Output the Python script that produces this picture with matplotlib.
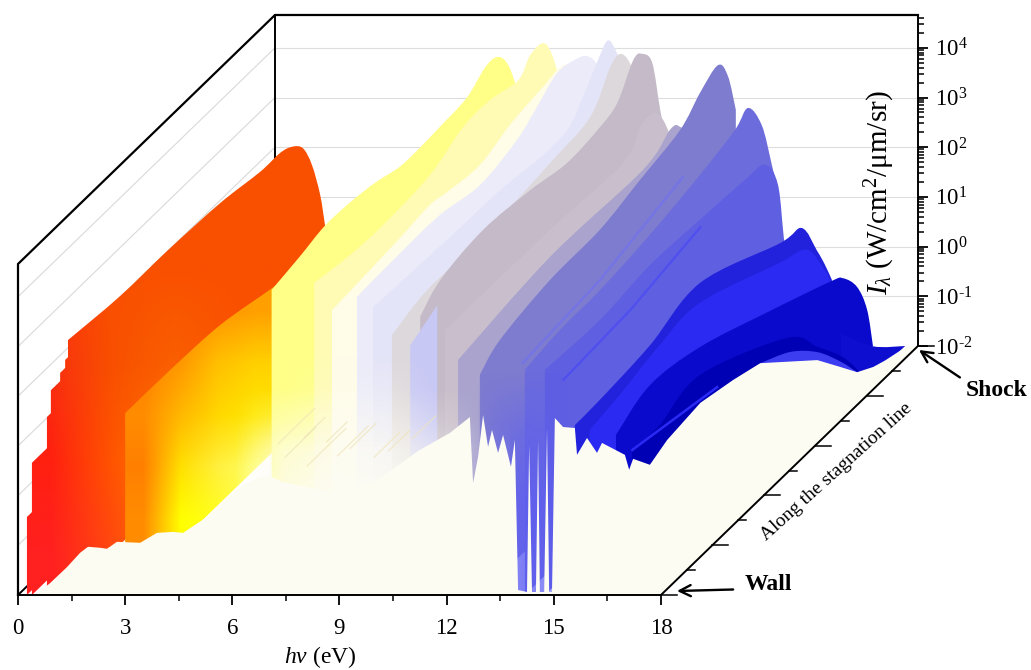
import numpy as np
import matplotlib
matplotlib.use("Agg")
import matplotlib.pyplot as plt
from matplotlib.colors import to_rgb
from matplotlib.patches import PathPatch
from matplotlib.path import Path

plt.rcParams['font.family'] = ['Liberation Serif', 'DejaVu Sans']
plt.rcParams['mathtext.fontset'] = 'custom'
plt.rcParams['mathtext.rm'] = 'Liberation Serif'
plt.rcParams['mathtext.it'] = 'Liberation Serif:italic'
plt.rcParams['mathtext.bf'] = 'Liberation Serif:bold'

# low photon energy slices: only the first step of each one shows
hv_low = [0.25, 0.39, 0.81, 0.92, 1.18, 1.32]
i_low = [-0.43, 0.66, 1.58, 2.12, 2.47, 2.73]

# profiles along the stagnation line, depth 0 = wall, 1 = shock, values are log10(I)
hv_body = 1.40
d_body = [0, .202, .389, .591, .747, .825, .872, .914, .949, .981, 1.0]
i_body = [3.13, 3.00, 2.99, 2.92, 2.77, 2.76, 2.65, 2.41, 1.90, 1.14, 0.43]

hv_gold = 3.00
d_gold = [0, .175, .37, .572, .65]
i_gold = [1.66, 1.65, 1.58, 1.31, 1.25]

hv_yellow = 7.10
d_yellow = [0, .109, .206, .304, .401, .498, .576, .654, .759, .829, .875, .914, .946, .973, 1.0]
i_yellow = [4.14, 4.26, 4.39, 4.37, 4.28, 4.12, 4.11, 4.14, 4.20, 4.45, 4.44, 4.14, 3.58, 2.79, 1.52]

hv_pale = 8.29
d_pale = [0, .14, .268, .451, .58, .685, .794, .84, .891, .926, .965, .996]
i_pale = [4.28, 4.14, 4.10, 4.19, 4.51, 4.53, 4.38, 4.65, 4.64, 4.23, 3.33, 2.47]

hv_cream = 8.79
d_cream = [0, .128, .265, .381, .459, .576, .693, .809, .895, .946, .984]
i_cream = [3.73, 3.79, 3.86, 3.94, 3.85, 3.77, 3.99, 4.10, 4.16, 3.82, 3.03]

hv_lav1 = 9.49
d_lav1 = [0, .167, .323, .479, .623, .70, .778, .848, .895, .934, .965, .992]
i_lav1 = [4.00, 4.04, 4.03, 3.85, 4.04, 4.31, 4.60, 4.52, 4.36, 3.98, 3.23, 2.49]

hv_lav2 = 9.94
d_lav2 = [0, .30, .494, .638, .755, .817, .875, .914, .949, .977, 1.0]
i_lav2 = [3.79, 3.70, 3.67, 3.55, 3.57, 3.93, 4.38, 4.58, 4.15, 3.57, 2.71]

hv_beige = 10.47
d_beige = [0, .136, .342, .615, .77, .848, .887, .926, .965, .996]
i_beige = [3.23, 3.45, 3.43, 3.61, 3.75, 4.36, 4.44, 4.06, 3.23, 2.37]

hv_block = 10.98
d_block = [0, .105]
i_block = [3.02, 3.30]

hv_mauve1 = 11.26
d_mauve1 = [0, .08, .245, .428, .572, .70, .767, .829, .864, .903, .934, .965, .996]
i_mauve1 = [3.60, 3.95, 4.12, 4.00, 3.83, 3.91, 4.06, 4.61, 4.56, 4.18, 3.08, 2.12, 1.36]

hv_mauve2 = 11.95
d_mauve2 = [0, .409, .693, .759, .809, .844, .875, .914, .953, .992]
i_mauve2 = [3.33, 3.30, 3.22, 3.61, 3.64, 3.37, 2.87, 1.97, 1.17, 0.47]

hv_slate = 12.32
d_slate = [0, .358, .72, .825, .864, .903, .942, .988]
i_slate = [2.73, 3.01, 2.95, 3.23, 3.09, 2.63, 1.73, 0.70]

hv_peri1 = 12.93
d_peri1 = [0, .078, .272, .467, .623, .778, .856, .926, .965, .996]
i_peri1 = [2.43, 2.74, 2.97, 3.01, 3.23, 3.45, 3.81, 4.02, 3.61, 2.77]

hv_peri2 = 14.19
d_peri2 = [0, .136, .292, .486, .681, .817, .868, .922, .961, .992]
i_peri2 = [2.53, 2.65, 2.67, 2.81, 3.04, 3.26, 3.45, 2.83, 1.84, 0.98]

hv_peri3 = 14.75
d_peri3 = [0, .214, .409, .603, .778, .856, .907, .934, .973, 1.0]
i_peri3 = [2.53, 2.46, 2.59, 2.53, 2.45, 2.37, 1.71, 0.36, -0.53, -1.28]

hv_blue1 = 15.59
d_blue1 = [0, .097, .292, .486, .798, .883, .942, .973, 1.0]
i_blue1 = [1.42, 1.44, 1.56, 1.84, 1.08, 0.96, 0.21, -0.23, -0.67]

hv_blue2 = 16.00
d_blue2 = [0, .117, .272, .428, .739, .844, .907, .942, 1.0]
i_blue2 = [1.32, 1.44, 1.66, 1.73, 0.98, 0.72, 0.05, -0.48, -1.88]

hv_blue3 = 16.74
d_blue3 = [0, .132, .327, .588, .833, .883, .938, .977, 1.0]
i_blue3 = [1.22, 1.56, 1.35, 0.74, 0.13, -0.05, -0.50, -1.15, -2.0]

hv_back = 17.64
d_back = [.75, .875, 1.0]
i_back = [-0.50, -1.38, -2.0]

hv_blue4 = 17.19
d_blue4 = [0, .109, .265, .603, .72, .821, .887]
i_blue4 = [0.88, 0.88, 1.10, 0.15, -0.61, -1.33, -1.96]

hv_bump = 17.70
d_bump = [.428, .545, .65, .74, .805]
i_bump = [0.52, 0.16, -0.37, -1.01, -1.55]

# thin bright ridges that show on the surface
ridge1_hv = 14.13
ridge1_d = [0, .30, .623]
ridge1_i = [2.67, 2.83, 3.29]
ridge2_hv = 15.27
ridge2_d = [0, .26, .533]
ridge2_i = [2.33, 2.43, 2.73]
ridge3_hv = 17.20
ridge3_d = [0, .33]
ridge3_i = [0.92, 0.53]

# noisy pale lines in the faded part: hv, depth at start, depth at end, log10(I)
streak_hv = [7.15, 7.40, 7.80, 8.10, 8.35, 8.80, 9.30, 9.75, 10.30, 10.90]
streak_d0 = [.02, .01, .03, .00, .04, .02, .00, .03, .01, .02]
streak_d1 = [.16, .13, .11, .15, .12, .14, .10, .13, .09, .11]
streak_i = [0.95, 0.72, 1.02, 0.60, 0.88, 0.70, 0.95, 0.62, 0.85, 1.05]

# spectrum at the wall, lower edge of the coloured surface
wall_hv = [.48, .90, 1.37, 1.74, 1.96, 2.30, 2.49, 2.77, 3.42, 3.89, 4.34, 4.62, 5.29, 5.85, 6.30,
           6.69, 7.05, 7.42, 8.26, 9.10, 10.13, 11.25, 12.09, 12.65, 12.74, 12.88, 13.02, 13.16,
           13.27, 13.44, 13.58, 13.80, 13.91, 14.0, 14.25, 14.31, 14.39, 14.50, 14.56, 14.61,
           14.73, 14.81, 14.87, 14.95, 15.03, 15.26, 15.59, 15.65, 15.93, 16.21, 16.35, 16.99,
           17.11, 17.22, 17.69]
wall_i = [-2, -1.76, -1.44, -1.15, -1.03, -1.05, -1.07, -.93, -.95, -.75, -.73, -.75, -.43, -.05, .21,
          .35, .39, .27, .15, .05, .35, .92, 1.26, 1.58, .25, .78, 1.62, .98,
          1.32, .86, 1.22, .58, 1.12, -1.90, -1.94, 1.02, -1.94, -1.94, 1.12, -1.94,
          -1.94, 1.36, -1.94, -1.94, 1.56, 1.38, 1.36, .82, 1.16, .86, 1.06, .82,
          .52, .74, .62]

# highest photon energy edge, along the stagnation line
edge_hv = 17.70
edge_d = [.066, .195, .323, .428, .65, .74, .805, .868, .914, 1.0]
edge_i = [.79, .89, .71, .52, -.53, -1.12, -1.55, -1.76, -1.86, -2.0]

decades = [-2, -1, 0, 1, 2, 3, 4]
top_decade = 4.66
x_ticks = [0, 3, 6, 9, 12, 15, 18]
x_minor = [1.5, 4.5, 7.5, 10.5, 13.5, 16.5]
depth_major = [0, .2, .4, .6, .8, 1.0]
depth_minor = [.1, .3, .5, .7, .9]

PX_EV = 35.72
PX_DEC = 49.7
DEPTH_X = 257 / PX_EV
DEPTH_Y = 249 / PX_DEC
CREAM = '#FDFCF3'


def proj(hv, d, log_i):
    return np.asarray(hv) + DEPTH_X * np.asarray(d), np.asarray(log_i) + DEPTH_Y * np.asarray(d)


def px(sx, sy):
    return (sx - 18) / PX_EV, (595 - sy) / PX_DEC - 2


def outline(hv, d, log_i):
    # rounded top line through the read values, straight sides down to the floor
    x, y = proj(hv, np.array(d), np.array(log_i))
    pts = np.column_stack([x, y])
    verts = [pts[0]]
    codes = [Path.MOVETO]
    for i in range(len(pts) - 1):
        before = pts[max(i - 1, 0)]
        after = pts[min(i + 2, len(pts) - 1)]
        verts += [pts[i] + (pts[i + 1] - before) / 6, pts[i + 1] - (after - pts[i]) / 6, pts[i + 1]]
        codes += [Path.CURVE4] * 3
    fx, fy = proj(hv, np.array([d[-1], d[0]]), np.array([-2, -2]))
    verts += [(fx[0], fy[0]), (fx[1], fy[1]), pts[0]]
    codes += [Path.LINETO, Path.LINETO, Path.CLOSEPOLY]
    return Path(np.array(verts), codes)


def grid_image(rows):
    return np.array([[to_rgb(c) for c in row] for row in rows])


def gradient_fill(ax, path, img, corners, z):
    # corners in picture pixels: left, right, bottom, top
    x0, y0 = px(corners[0], corners[2])
    x1, y1 = px(corners[1], corners[3])
    im = ax.imshow(img, extent=(x0, x1, y0, y1), aspect='auto', interpolation='bilinear',
                   origin='upper', zorder=z)
    im.set_clip_path(path, ax.transData)


def tint(ax, color, alpha_rows, corners, z):
    img = np.zeros((len(alpha_rows), len(alpha_rows[0]), 4))
    img[..., :3] = to_rgb(color)
    img[..., 3] = alpha_rows
    x0, y0 = px(corners[0], corners[2])
    x1, y1 = px(corners[1], corners[3])
    ax.imshow(img, extent=(x0, x1, y0, y1), aspect='auto', interpolation='bilinear',
              origin='upper', zorder=z)


fig = plt.figure(figsize=(10.31, 6.70), dpi=100)
ax = fig.add_axes([18 / 1031, 75 / 670, 900 / 1031, 580 / 670])

# walls
for k in decades[1:]:
    x, y = proj([0, 0], [0, 1], [k, k])
    ax.plot(x, y, color='#D9D9D9', lw=0.8, zorder=1)
    x, y = proj([0, 18], [1, 1], [k, k])
    ax.plot(x, y, color='#DDDDDD', lw=0.8, zorder=1)
x, y = proj([0, 0, 0, 18], [0, 0, 1, 1], [-2, top_decade, top_decade, top_decade])
ax.plot(x, y, color='black', lw=1.6, zorder=1.2, solid_joinstyle='miter', clip_on=False)
x, y = proj([0, 0, 0], [0, 1, 1], [-2, -2, top_decade])
ax.plot(x, y, color='black', lw=1.4, zorder=1.2, clip_on=False)

# warm part, colour changes inside the surface
body_colors = grid_image([
    ['#FF4A08', '#F95000', '#F95000', '#F95000', '#F95000'],
    ['#FF3A08', '#F95000', '#F95000', '#F95000', '#F95000'],
    ['#F93010', '#F85000', '#FA6000', '#F95200', '#F95200'],
    ['#FF2010', '#FF5500', '#FF8000', '#FF7000', '#FF7000'],
    ['#FF2020', '#FF4810', '#FF8000', '#FF6000', '#FF6000'],
])
gold_colors = grid_image([
    ['#FF8000', '#FF8800', '#FF9500', '#FFA000'],
    ['#FF8000', '#FF9800', '#FFC000', '#FFD000'],
    ['#FF8C00', '#FFB800', '#FFD800', '#FFE800'],
    ['#FF8000', '#FFE000', '#FFF040', '#FFFF60'],
    ['#FF8C00', '#FFFF00', '#FFFF20', '#FFFF60'],
])
for hv, v in zip(hv_low, i_low):
    gradient_fill(ax, outline(hv, [0, .2], [v, v]), body_colors, (20, 330, 600, 130), 1.3)
gradient_fill(ax, outline(hv_body, d_body, i_body), body_colors, (20, 330, 600, 130), 1.3)
gradient_fill(ax, outline(hv_gold, d_gold, i_gold), gold_colors, (125, 275, 545, 285), 1.4)

# cool part, one colour per slice, drawn from low to high photon energy
slices = [
    (hv_yellow, d_yellow, i_yellow, '#FFFF88'),
    (hv_pale, d_pale, i_pale, '#FFFBB4'),
    (hv_cream, d_cream, i_cream, '#FFFCE8'),
    (hv_lav1, d_lav1, i_lav1, '#EBEBFA'),
    (hv_lav2, d_lav2, i_lav2, '#E4E4F8'),
    (hv_beige, d_beige, i_beige, '#DDD8DC'),
    (hv_mauve1, d_mauve1, i_mauve1, '#C4BAC8'),
    (hv_block, d_block, i_block, '#C8C8F5'),
    (hv_mauve2, d_mauve2, i_mauve2, '#C9BFCC'),
    (hv_slate, d_slate, i_slate, '#A9A3CE'),
    (hv_peri1, d_peri1, i_peri1, '#7E7CCF'),
    (hv_peri2, d_peri2, i_peri2, '#6C6CDC'),
    (hv_peri3, d_peri3, i_peri3, '#5F5FE2'),
    (hv_blue1, d_blue1, i_blue1, '#2222DD'),
    (hv_blue2, d_blue2, i_blue2, '#2A2AF2'),
    (hv_blue3, d_blue3, i_blue3, '#0A0ACC'),
    (hv_back, d_back, i_back, '#0E0ED0'),
    (hv_blue4, d_blue4, i_blue4, '#0000B4'),
    (hv_bump, d_bump, i_bump, '#3C3CF0'),
]
z = 1.5
for hv, d, v, c in slices:
    ax.add_patch(PathPatch(outline(hv, d, v), facecolor=c, edgecolor='none', zorder=z))
    z += 0.01

for hv, d, v, c, w in [(ridge1_hv, ridge1_d, ridge1_i, '#7474E6', 1.6),
                       (ridge2_hv, ridge2_d, ridge2_i, '#4F4FF0', 1.6),
                       (ridge3_hv, ridge3_d, ridge3_i, '#2A2AF5', 1.8)]:
    x, y = proj(hv, np.array(d), np.array(v))
    ax.plot(x, y, color=c, lw=w, zorder=1.75)

# periwinkle wash over the low part of the blue slices
tint(ax, '#5C5CF2', [[0, 0, 0, 0, 0],
                     [0, .35, .5, .4, 0],
                     [.1, .6, .8, .7, .1],
                     [.1, .6, .8, .7, .1]],
     (465, 580, 600, 340), 1.8)

# the surface fades out toward the wall in the middle of the spectrum
tint(ax, CREAM, [[0, 0, 0, 0, 0, 0],
                 [0, 0, .12, .2, 0, 0],
                 [0, .3, .5, .5, .2, 0],
                 [0, .7, .85, .8, .5, .05],
                 [0, .8, .95, .9, .6, .05]],
     (210, 510, 500, 340), 1.85)

for hv, d0, d1, v in zip(streak_hv, streak_d0, streak_d1, streak_i):
    x, y = proj([hv, hv], [d0, d1], [v, v])
    ax.plot(x, y, color='#EFE4B8', lw=0.9, alpha=0.7, zorder=1.87)

# floor in front of the wall spectrum and the high energy edge
wx, wy = proj(wall_hv, np.zeros(len(wall_hv)), wall_i)
ex, ey = proj(edge_hv, np.array(edge_d), np.array(edge_i))
cx, cy = proj([18, 18, wall_hv[0]], [1, 0, 0], [-2, -2, -2])
ax.fill(np.r_[wx, ex, cx], np.r_[wy, ey, cy], color=CREAM, lw=0, zorder=1.95)

# depth axis
x, y = proj([18, 18], [0, 1], [-2, -2])
ax.plot(x, y, color='black', lw=1.4, zorder=2.2)
for d in depth_major:
    x, y = proj(18, d, -2)
    ax.plot([x, x + 16 / PX_EV], [y, y], color='black', lw=1.1, zorder=2.2, clip_on=False)
for d in depth_minor:
    x, y = proj(18, d, -2)
    ax.plot([x, x + 8 / PX_EV], [y, y], color='black', lw=1.1, zorder=2.2, clip_on=False)

ax.set_xlim(0, 900 / PX_EV)
ax.set_ylim(-2, 580 / PX_DEC - 2)
ax.patch.set_alpha(0)
ax.spines['left'].set_visible(False)
ax.spines['top'].set_visible(False)
ax.spines['bottom'].set_bounds(0, 18)
ax.spines['right'].set_bounds(-2 + DEPTH_Y, top_decade + DEPTH_Y)
ax.spines['bottom'].set_linewidth(1.4)
ax.spines['right'].set_linewidth(1.4)
ax.set_xticks(x_ticks)
ax.set_xticks(x_minor, minor=True)
ax.set_xticklabels([str(v) for v in x_ticks])
# the log axis belongs to the back wall, so its ticks sit one full depth higher
ax.yaxis.tick_right()
ax.set_yticks([k + DEPTH_Y for k in decades])
ax.set_yticklabels([f'10$^{{\\mathregular{{{k}}}}}$'.replace('-', '\u2010') for k in decades])
minor = [k + np.log10(m) + DEPTH_Y for k in decades for m in range(2, 10) if k + np.log10(m) < top_decade]
ax.set_yticks(minor, minor=True)
ax.tick_params(axis='both', which='major', length=7.5, width=1.3, labelsize=16.5, pad=9)
ax.tick_params(axis='both', which='minor', length=4, width=1.1)
ax.tick_params(axis='y', which='major', pad=5, labelsize=16.5)


def fig_xy(sx, sy):
    return sx / 1031, 1 - sy / 670


fx, fy = fig_xy(320, 657)
fig.text(fx, fy, r'$\mathit{hv}$ (eV)', fontsize=17, ha='center', va='center')
fx, fy = fig_xy(880, 193)
fig.text(fx, fy, '$\\mathit{I}_{\\lambda}$ (W/cm$^{\\mathregular{2}}$/\u03bcm/sr)', fontsize=21,
         rotation=90, ha='center', va='center')
fx, fy = fig_xy(836, 472)
fig.text(fx, fy, 'Along the stagnation line', fontsize=14, rotation=42, ha='center', va='center',
         rotation_mode='anchor')

arrow = dict(arrowstyle='->', lw=1.7, color='black', mutation_scale=20, shrinkA=0, shrinkB=0)
ax.annotate('Wall', xy=fig_xy(677, 591), xycoords='figure fraction', xytext=fig_xy(768, 585),
            textcoords='figure fraction', fontsize=17, fontweight='bold', ha='center', va='center',
            arrowprops=dict(arrow, relpos=(0, .3), shrinkA=6))
ax.annotate('Shock', xy=fig_xy(919, 350), xycoords='figure fraction', xytext=fig_xy(997, 390),
            textcoords='figure fraction', fontsize=17, fontweight='bold', ha='center', va='center',
            arrowprops=dict(arrow, relpos=(0, .9), shrinkA=3))

fig.savefig('out.png', dpi=100)
